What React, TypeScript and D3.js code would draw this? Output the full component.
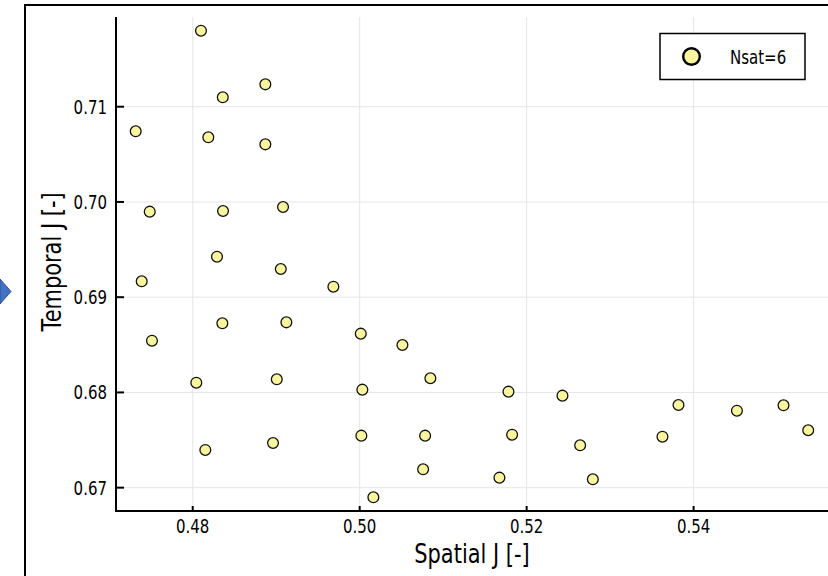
import React from "react";
import * as d3 from "d3";

const spatialJ: number[] = [
  0.48099, 0.4887, 0.4836, 0.47317, 0.48187, 0.4887, 0.47485, 0.48363, 0.49082, 0.48291,
  0.47389, 0.49055, 0.49685, 0.48355, 0.49122, 0.47512, 0.48043, 0.49007, 0.48151, 0.48962,
  0.50013, 0.50512, 0.50847, 0.50032, 0.51782, 0.52429, 0.5002, 0.50784, 0.51826, 0.52641,
  0.5076, 0.51674, 0.50164, 0.52793, 0.53819, 0.53627, 0.54519, 0.55077, 0.55373,
];
const temporalJ: number[] = [
  0.71798, 0.71235, 0.71099, 0.70742, 0.70679, 0.70605, 0.69898, 0.69905, 0.69947, 0.69425,
  0.69167, 0.69296, 0.6911, 0.68726, 0.68736, 0.68543, 0.68102, 0.68138, 0.67396, 0.67469,
  0.68617, 0.68498, 0.68149, 0.68029, 0.68008, 0.67966, 0.67546, 0.67546, 0.67556, 0.67445,
  0.67193, 0.67105, 0.66899, 0.67088, 0.67868, 0.67535, 0.67808, 0.67865, 0.67603,
];
const xTicks: number[] = [0.48, 0.5, 0.52, 0.54];
const yTicks: number[] = [0.67, 0.68, 0.69, 0.7, 0.71];
const seriesName = "Nsat=6";
const xTitle = "Spatial J [-]";
const yTitle = "Temporal J [-]";

const FILL = "#f8f59e";
const SX = 0.79;
const FONT = "'DejaVu Sans', sans-serif";

export default function App() {
  const left = 116, right = 828, top = 17, bottom = 511;
  const x = d3.scaleLinear().domain([0.47081, 0.5561]).range([left, right]);
  const y = d3.scaleLinear().domain([0.66755, 0.71942]).range([bottom, top]);
  const fmt = d3.format(".2f");
  const pts = spatialJ.map((v, i) => [v, temporalJ[i]] as [number, number]);

  return (
    <svg
      width={828}
      height={576}
      style={{ position: "absolute", left: 0, top: 0, background: "#fff" }}
      fontFamily={FONT}
    >
      <rect x={0} y={0} width={828} height={576} fill="#fff" />
      {/* outer frame */}
      <rect x={25} y={5} width={900} height={700} fill="none" stroke="#000" strokeWidth={2} />
      {/* blue arrow at left */}
      <polygon points="0,279 11,291.5 0,304" fill="#4472c4" stroke="#2f528f" strokeWidth={1} />

      {/* grid */}
      {xTicks.map((t) => (
        <line key={"gx" + t} x1={x(t)} x2={x(t)} y1={top} y2={bottom} stroke="#e6e6e6" strokeWidth={1} />
      ))}
      {yTicks.map((t) => (
        <line key={"gy" + t} x1={left} x2={right} y1={y(t)} y2={y(t)} stroke="#e6e6e6" strokeWidth={1} />
      ))}

      {/* axes */}
      <line x1={left} x2={left} y1={top} y2={bottom + 1} stroke="#000" strokeWidth={2} />
      <line x1={left - 1} x2={right} y1={bottom} y2={bottom} stroke="#000" strokeWidth={2} />
      {yTicks.map((t) => (
        <g key={"ty" + t}>
          <line x1={left} x2={left + 8} y1={y(t)} y2={y(t)} stroke="#000" strokeWidth={2} />
          <text
            transform={`translate(107,${y(t) + 7}) scale(${SX},1)`}
            textAnchor="end"
            fontSize={19}
            fill="#000"
          >
            {fmt(t)}
          </text>
        </g>
      ))}
      {xTicks.map((t) => (
        <g key={"tx" + t}>
          <line x1={x(t)} x2={x(t)} y1={bottom} y2={bottom - 5} stroke="#000" strokeWidth={2} />
          <text
            transform={`translate(${x(t)},532.5) scale(${SX},1)`}
            textAnchor="middle"
            fontSize={19}
            fill="#000"
          >
            {fmt(t)}
          </text>
        </g>
      ))}

      {/* titles */}
      <text
        transform={`translate(472,563) scale(${SX},1)`}
        textAnchor="middle"
        fontSize={26.5}
        fill="#000"
      >
        {xTitle}
      </text>
      <text
        transform={`translate(61,262) rotate(-90) scale(${SX},1)`}
        textAnchor="middle"
        fontSize={26.5}
        fill="#000"
      >
        {yTitle}
      </text>

      {/* points */}
      {pts.map(([a, b], i) => (
        <circle key={i} cx={x(a)} cy={y(b)} r={5.4} fill={FILL} stroke="#111" strokeWidth={1.3} />
      ))}

      {/* legend */}
      <rect x={660} y={33.5} width={145} height={46} fill="#fff" stroke="#000" strokeWidth={1.5} />
      <circle cx={691.5} cy={56.5} r={8.3} fill={FILL} stroke="#000" strokeWidth={2.4} />
      <text transform={`translate(730,63.5) scale(${SX},1)`} fontSize={19} fill="#000">
        {seriesName}
      </text>
    </svg>
  );
}
